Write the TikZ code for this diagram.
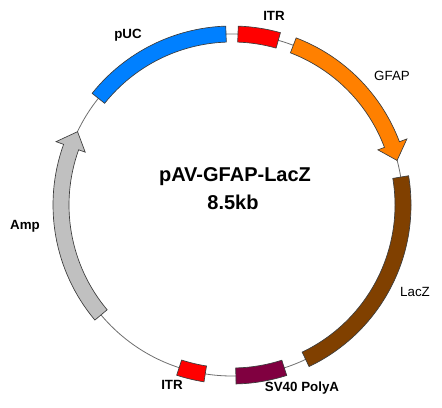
\documentclass[tikz,border=0pt]{standalone}
\usepackage{fontspec}
\setmainfont{Liberation Sans}

\begin{document}
\begin{tikzpicture}[x=0.75pt,y=0.75pt,yscale=-1,xscale=1]
\path (0,0) rectangle (442,407); %set diagram to 442 x 407

\begin{scope}[shift={(232,205)},yscale=-1]
%Shape: Circle [backbone]
\draw [color={rgb, 255:red, 110; green, 110; blue, 110 }  ,line width=0.6]   (0,0) circle (171) ;
%Shape: Arc [pUC]
\draw [color={rgb, 255:red, 60; green, 60; blue, 60 }  ,fill={rgb, 255:red, 0; green, 128; blue, 255 }  ,line width=0.5]   (92:163) arc [start angle=92, end angle=141.4, radius=163] -- (141.4:179) arc [start angle=141.4, end angle=92, radius=179] -- cycle ;
%Shape: Arc [ITR top]
\draw [color={rgb, 255:red, 60; green, 60; blue, 60 }  ,fill={rgb, 255:red, 255; green, 0; blue, 0 }  ,line width=0.5]   (74.3:163) arc [start angle=74.3, end angle=88, radius=163] -- (88:179) arc [start angle=88, end angle=74.3, radius=179] -- cycle ;
%Shape: Arc Arrow [GFAP]
\draw [color={rgb, 255:red, 60; green, 60; blue, 60 }  ,fill={rgb, 255:red, 255; green, 128; blue, 0 }  ,line width=0.5]   (69:163) arc [start angle=69, end angle=20.7, radius=163] -- (20.7:156) -- (15.1:171) -- (20.7:187) -- (20.7:179) arc [start angle=20.7, end angle=69, radius=179] -- cycle ;
%Shape: Arc [LacZ]
\draw [color={rgb, 255:red, 60; green, 60; blue, 60 }  ,fill={rgb, 255:red, 128; green, 64; blue, 0 }  ,line width=0.5]   (9.4:163) arc [start angle=9.4, end angle=-64.5, radius=163] -- (-64.5:179) arc [start angle=-64.5, end angle=9.4, radius=179] -- cycle ;
%Shape: Arc [SV40 PolyA]
\draw [color={rgb, 255:red, 60; green, 60; blue, 60 }  ,fill={rgb, 255:red, 128; green, 0; blue, 64 }  ,line width=0.5]   (-72.2:163) arc [start angle=-72.2, end angle=-88.7, radius=163] -- (-88.7:179) arc [start angle=-88.7, end angle=-72.2, radius=179] -- cycle ;
%Shape: Arc [ITR bottom]
\draw [color={rgb, 255:red, 60; green, 60; blue, 60 }  ,fill={rgb, 255:red, 255; green, 0; blue, 0 }  ,line width=0.5]   (-99:163) arc [start angle=-99, end angle=-108, radius=163] -- (-108:179) arc [start angle=-108, end angle=-99, radius=179] -- cycle ;
%Shape: Arc Arrow [Amp]
\draw [color={rgb, 255:red, 60; green, 60; blue, 60 }  ,fill={rgb, 255:red, 192; green, 192; blue, 192 }  ,line width=0.5]   (220:163) arc [start angle=220, end angle=160.2, radius=163] -- (160.2:156) -- (154.6:171) -- (160.2:187) -- (160.2:179) arc [start angle=160.2, end angle=220, radius=179] -- cycle ;
\end{scope}

% Text Node
\draw (128,35) node [inner sep=0.75pt]  (puc)  {\fontsize{10}{12}\selectfont\bfseries pUC};
% Text Node
\draw (274,16) node [inner sep=0.75pt]  (itrtop)  {\fontsize{10}{12}\selectfont\bfseries ITR};
% Text Node
\draw (392,76) node [inner sep=0.75pt]  (gfap)  {\fontsize{10}{12}\selectfont GFAP};
% Text Node
\draw (415,292) node [inner sep=0.75pt]  (lacz)  {\fontsize{10}{12}\selectfont LacZ};
% Text Node
\draw (302,388) node [inner sep=0.75pt]  (polya)  {\fontsize{10}{12}\selectfont\bfseries SV40 PolyA};
% Text Node
\draw (172,385) node [inner sep=0.75pt]  (itrbot)  {\fontsize{10}{12}\selectfont\bfseries ITR};
% Text Node
\draw (25,226) node [inner sep=0.75pt]  (amp)  {\fontsize{10}{12}\selectfont\bfseries Amp};
% Text Node
\draw (235,177) node [inner sep=0.75pt]  (title)  {\fontsize{15}{18}\selectfont\bfseries pAV-GFAP-LacZ};
% Text Node
\draw (233,202) node [inner sep=0.75pt]  (size)  {\fontsize{15}{18}\selectfont\bfseries 8.5kb};

\end{tikzpicture}
\end{document}
